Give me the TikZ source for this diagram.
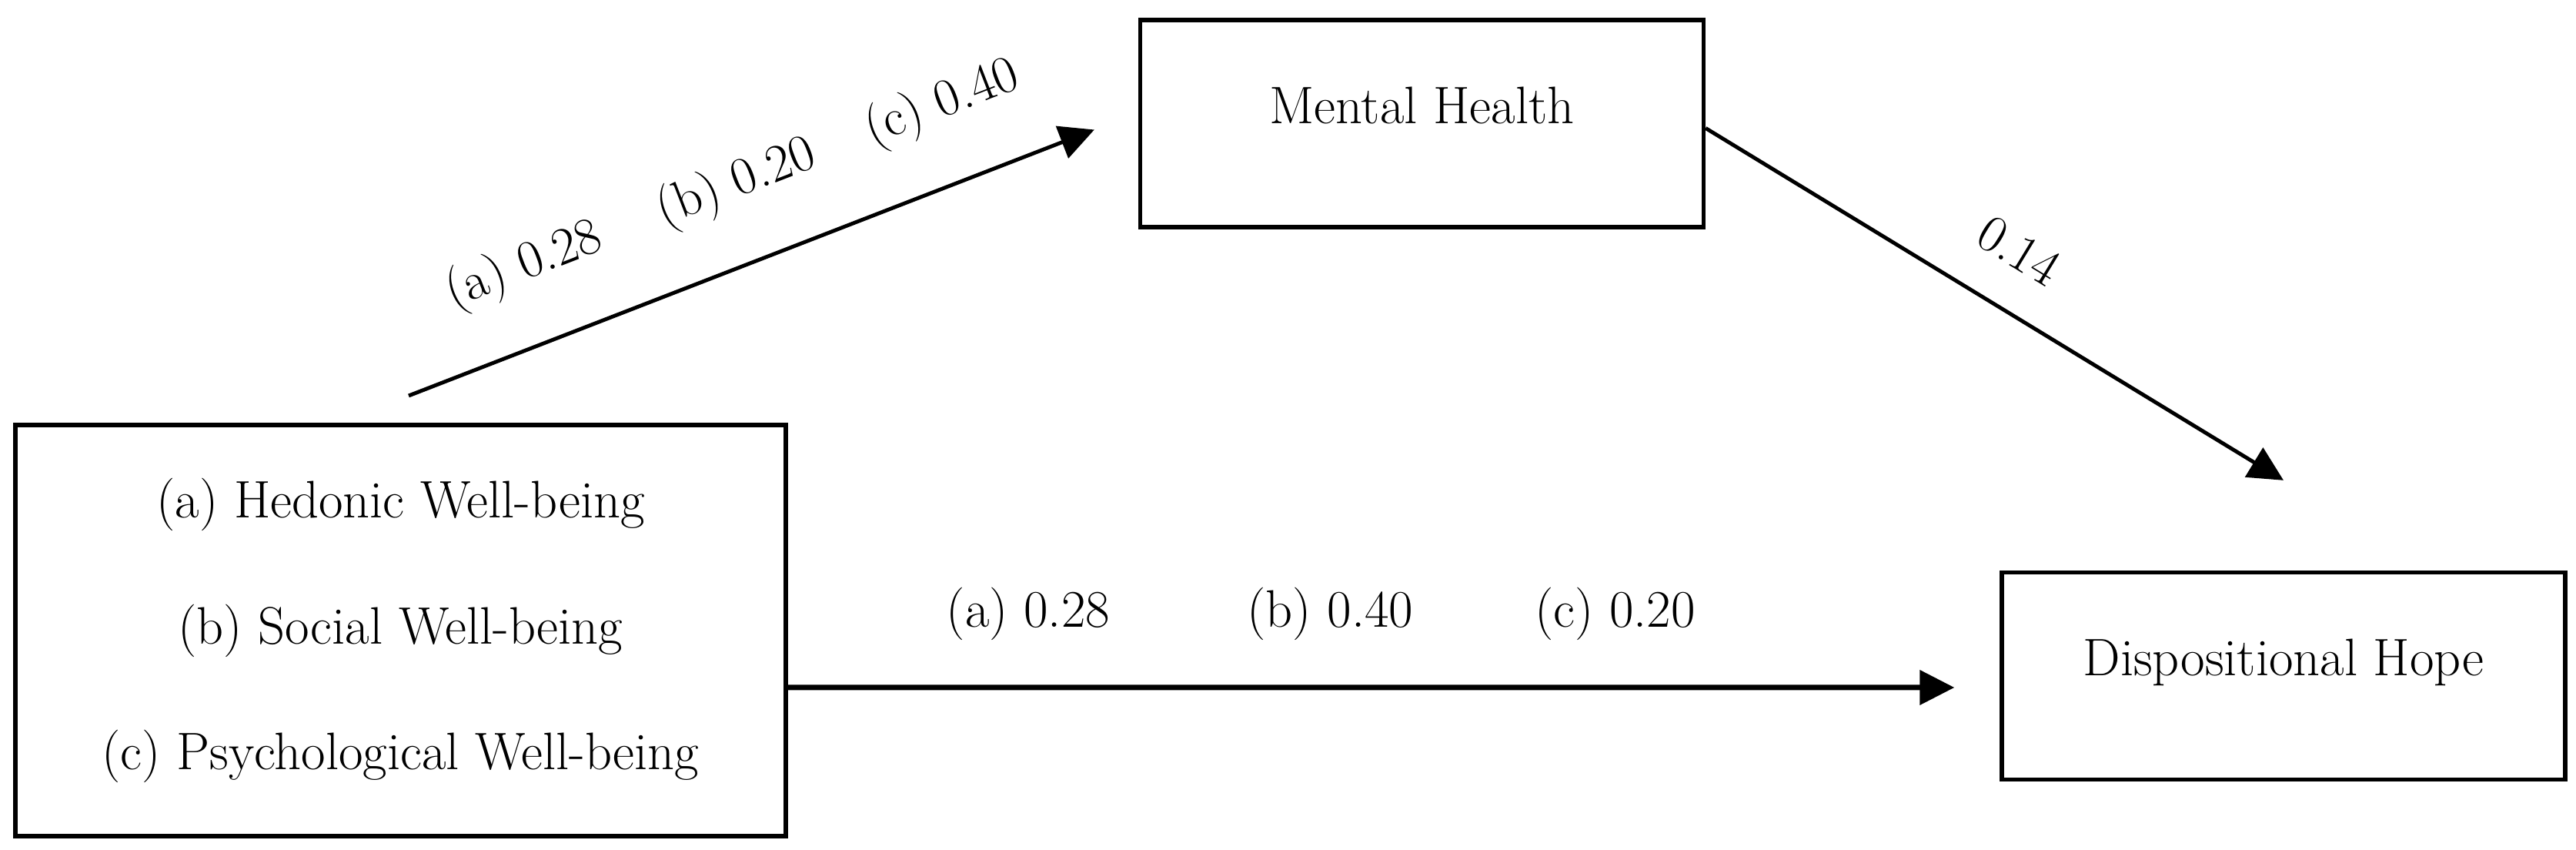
\documentclass[tikz,border=0pt]{standalone}
\usepackage{tikz}
\usetikzlibrary{arrows.meta}

\begin{document}
\begin{tikzpicture}[scale=1,
	every node/.style={font=\fontsize{19.5}{46.5}\selectfont},
	varbox/.style={draw, line width=1.5pt, minimum width=7.32cm, minimum height=2.69cm, text height=0.5cm, text depth=0.5cm},
	effect/.style={line width=1.4pt, -{Triangle[length=4.5mm,width=4.4mm]}},
	coef/.style={inner sep=0pt}]

			\useasboundingbox (0,0) rectangle (33.47,11.04);

			%boxes
			\node[draw, line width=1.5pt, minimum width=10.01cm, minimum height=5.34cm, align=center] (wb) at (5.205,2.85) {(a) Hedonic Well-being\\(b) Social Well-being\\(c) Psychological Well-being};

			\node[varbox] (mh) at (18.475,9.435) {Mental Health};

			\node[varbox] (dh) at (29.67,2.26) {Dispositional Hope};

			%paths
			\coordinate (start) at (5.31,5.90);

			\draw[effect] (start) -- node[coef, sloped, pos=0.21, above=0.66cm] {(a) 0.28} node[coef, sloped, pos=0.52, above=0.66cm] {(b) 0.20} node[coef, sloped, pos=0.82, above=0.66cm] {(c) 0.40} ([xshift=-0.57cm,yshift=-0.08cm]mh.west);

			\draw[effect] ([yshift=-0.06cm]mh.east) -- node[coef, sloped, pos=0.49, above=0.5cm] {0.14} ([yshift=1.17cm]dh.north);

			\draw[effect, line width=2pt] ([yshift=-0.74cm]wb.east) -- node[coef, pos=0.206, above=0.58cm] {(a) 0.28} node[coef, pos=0.465, above=0.58cm] {(b) 0.40} node[coef, pos=0.709, above=0.58cm] {(c) 0.20} ([xshift=-0.59cm,yshift=-0.15cm]dh.west);
\end{tikzpicture}
\end{document}
